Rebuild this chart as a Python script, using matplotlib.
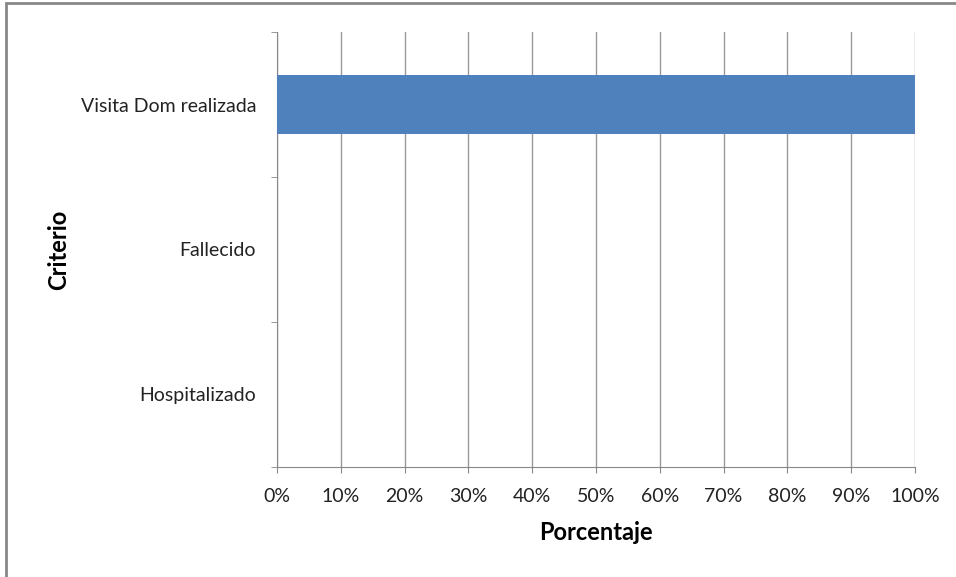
import matplotlib.pyplot as plt
from matplotlib.patches import Rectangle
import numpy as np

# data
categorias = ['Hospitalizado', 'Fallecido', 'Visita Dom realizada']
porcentaje = [0, 0, 100]
xticks = list(range(0, 101, 10))

plt.rcParams['font.family'] = ['Lato', 'DejaVu Sans']

fig = plt.figure(figsize=(9.56, 5.77), dpi=100)
ax = fig.add_axes([277/956, 1-467/577, (915-277)/956, (467-32)/577])

y = np.arange(len(categorias))
ax.barh(y, porcentaje, height=0.4, color='#4F81BD', zorder=3)

ax.set_xlim(0, 100)
ax.set_ylim(-0.5, len(categorias)-0.5)
ax.set_xticks(xticks)
ax.set_xticklabels(['{}%'.format(v) for v in xticks], fontsize=14, color='#222222')
ax.set_yticks(y)
ax.set_yticklabels(categorias, fontsize=14, color='#222222')
ax.set_yticks(np.arange(-0.5, len(categorias), 1), minor=True)

ax.tick_params(axis='y', which='major', length=0, pad=15)
ax.tick_params(axis='y', which='minor', length=4, color='#888888', direction='out')
ax.tick_params(axis='x', which='major', length=4, color='#888888', pad=11)

ax.grid(axis='x', color='#999999', linewidth=1, zorder=0)
for s in ['top', 'right']:
    ax.spines[s].set_visible(False)
for s in ['left', 'bottom']:
    ax.spines[s].set_color('#888888')

ax.set_xlabel('Porcentaje', fontsize=17, fontweight='bold', labelpad=12)
ax.set_ylabel('Criterio', fontsize=17, fontweight='bold')
ax.yaxis.set_label_coords(-(277-70)/(915-277), 0.5)

# gray frame of the chart area
fig.patches.append(Rectangle((6/956, -0.01), 1.0, 1-3/577+0.01, transform=fig.transFigure,
                             fill=False, edgecolor='#888888', linewidth=2))

fig.savefig('out.png', dpi=100)
